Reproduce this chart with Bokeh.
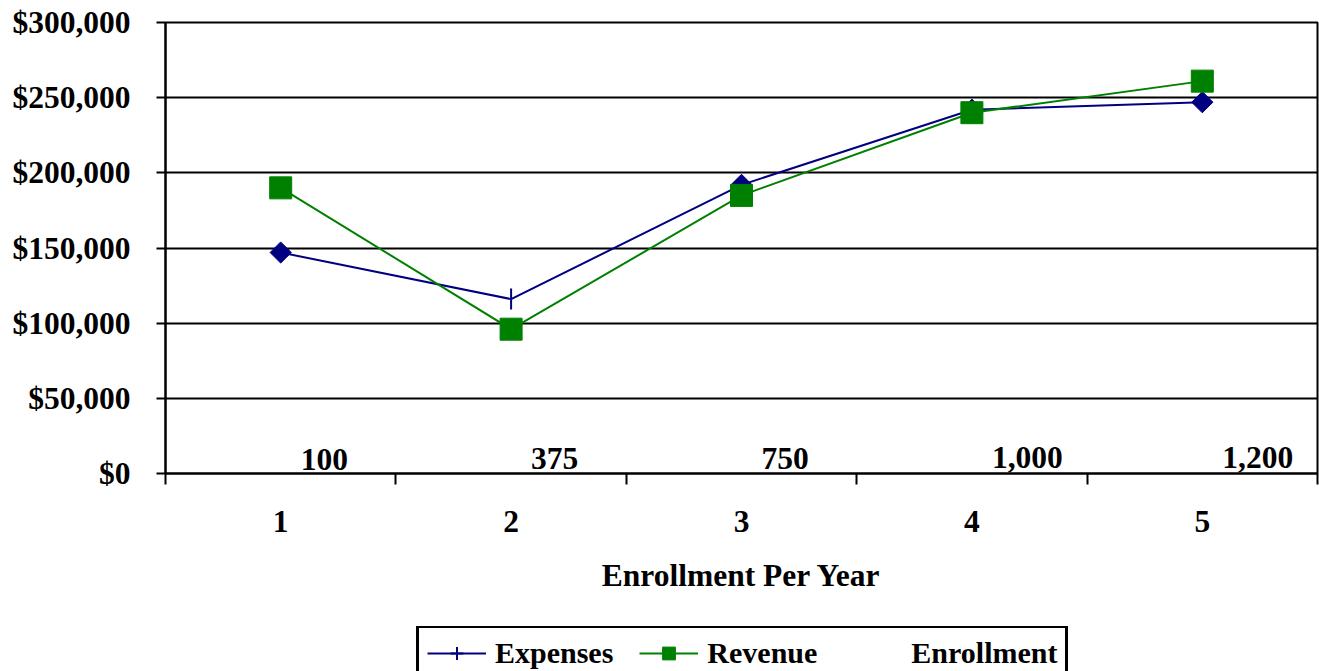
import math
from bokeh.plotting import figure
from bokeh.layouts import column
from bokeh.models import (ColumnDataSource, Range1d, FixedTicker, NumeralTickFormatter,
                          Legend, LegendItem, CDSView, IndexFilter, LabelSet)
from bokeh.core.properties import value
from bokeh.embed import file_html
from bokeh.resources import INLINE

# ---- data ----
categories = [1, 2, 3, 4, 5]
enrollment = [100, 375, 750, 1000, 1200]
enrollment_labels = ["100", "375", "750", "1,000", "1,200"]
expenses = [147000, 116000, 192000, 242000, 247000]
revenue = [190000, 96000, 185000, 240000, 261000]
y_ticks = [0, 50000, 100000, 150000, 200000, 250000, 300000]
x_title = "Enrollment Per Year"
series_names = ["Expenses", "Revenue", "Enrollment"]

FONT = "Liberation Serif"
FS = "31.5px"
NAVY = "#000080"
GREEN = "#008000"

src = ColumnDataSource(dict(x=categories, enrollment=enrollment, label=enrollment_labels,
                            expenses=expenses, revenue=revenue))

p = figure(width=1319, height=626,
           x_range=Range1d(categories[0] - 0.5, categories[-1] + 0.5),
           y_range=Range1d(y_ticks[0], y_ticks[-1]),
           output_backend="svg", toolbar_location=None,
           min_border_left=165, min_border_right=2, min_border_top=22, min_border_bottom=153)

p.background_fill_color = "white"
p.border_fill_color = "white"
p.outline_line_color = "black"
p.outline_line_width = 2

# grid
p.xgrid.visible = False
p.ygrid.grid_line_color = "black"
p.ygrid.grid_line_width = 2

# y axis
yax = p.yaxis[0]
yax.ticker = FixedTicker(ticks=y_ticks)
yax.formatter = NumeralTickFormatter(format="$0,0")
yax.major_label_text_font = FONT
yax.major_label_text_font_style = "bold"
yax.major_label_text_font_size = FS
yax.major_label_text_color = "black"
yax.major_tick_out = 9
yax.major_tick_in = 0
yax.minor_tick_out = 0
yax.minor_tick_in = 0
yax.major_tick_line_width = 2
yax.major_tick_line_color = "black"
yax.axis_line_width = 2
yax.axis_line_color = "black"
yax.major_label_standoff = 26

# x axis
xax = p.xaxis[0]
bounds = [c - 0.5 for c in categories] + [categories[-1] + 0.5]
xax.ticker = FixedTicker(ticks=categories, minor_ticks=bounds)
xax.major_label_text_font = FONT
xax.major_label_text_font_style = "bold"
xax.major_label_text_font_size = FS
xax.major_label_text_color = "black"
xax.major_tick_out = 0
xax.major_tick_in = 0
xax.minor_tick_out = 11
xax.minor_tick_in = 0
xax.minor_tick_line_width = 2
xax.minor_tick_line_color = "black"
xax.axis_line_width = 2
xax.axis_line_color = "black"
xax.major_label_standoff = 26
xax.axis_label = x_title
xax.axis_label_text_font = FONT
xax.axis_label_text_font_style = "bold"
xax.axis_label_text_font_size = FS
xax.axis_label_text_color = "black"
xax.axis_label_standoff = 23

# Expenses
exp_line = p.line("x", "expenses", source=src, line_color=NAVY, line_width=2)
exp_diam = p.scatter("x", "expenses", source=src, view=CDSView(filter=IndexFilter([0, 2, 3, 4])),
                     marker="square", angle=math.pi / 4, size=15,
                     fill_color=NAVY, line_color=NAVY)
exp_dash = p.scatter("x", "expenses", source=src, view=CDSView(filter=IndexFilter([1])),
                     marker="dash", angle=math.pi / 2, size=21,
                     line_color=NAVY, line_width=2)

# Revenue
rev_line = p.line("x", "revenue", source=src, line_color=GREEN, line_width=2)
rev_sq = p.scatter("x", "revenue", source=src, marker="square", size=22,
                   fill_color=GREEN, line_color=GREEN)

# Enrollment (invisible series with data labels)
enr_line = p.line("x", "enrollment", source=src, line_alpha=0)
labels = LabelSet(x="x", y="enrollment", text="label", source=src,
                  x_offset=20, y_offset=14, text_align="left", text_baseline="middle",
                  text_font=value(FONT), text_font_style="bold", text_font_size=FS,
                  text_color="black")
p.add_layout(labels)

# ---- legend strip (separate plot under the chart; its series lie outside its view) ----
pl = figure(width=1319, height=45, x_range=Range1d(0, 1), y_range=Range1d(0, 1),
            output_backend="svg", toolbar_location=None,
            x_axis_type=None, y_axis_type=None,
            min_border_left=165, min_border_right=2,
            min_border_top=0, min_border_bottom=0)
pl.outline_line_color = None
pl.xgrid.visible = False
pl.ygrid.visible = False
pl.background_fill_color = "white"
pl.border_fill_color = "white"

l_exp_line = pl.line("x", "expenses", source=src, line_color=NAVY, line_width=2)
l_exp_mark = pl.scatter("x", "expenses", source=src, marker="cross", line_color=NAVY, line_width=2)
l_rev_line = pl.line("x", "revenue", source=src, line_color=GREEN, line_width=2)
l_rev_mark = pl.scatter("x", "revenue", source=src, marker="square",
                        fill_color=GREEN, line_color=GREEN)
l_enr_line = pl.line("x", "enrollment", source=src, line_alpha=0)

legend = Legend(items=[LegendItem(label=series_names[0], renderers=[l_exp_line, l_exp_mark]),
                       LegendItem(label=series_names[1], renderers=[l_rev_line, l_rev_mark]),
                       LegendItem(label=series_names[2], renderers=[l_enr_line])],
                orientation="horizontal", location=(251, -10),
                label_text_font=FONT, label_text_font_style="bold",
                label_text_font_size="30px", label_text_color="black",
                label_standoff=9, spacing=26, glyph_width=59, glyph_height=32,
                padding=8, margin=0,
                border_line_color="black", border_line_width=3, border_line_alpha=1,
                background_fill_color="white", background_fill_alpha=1)
pl.add_layout(legend)

layout = column(p, pl, spacing=0)
open("out.html", "w").write(file_html(layout, INLINE))
